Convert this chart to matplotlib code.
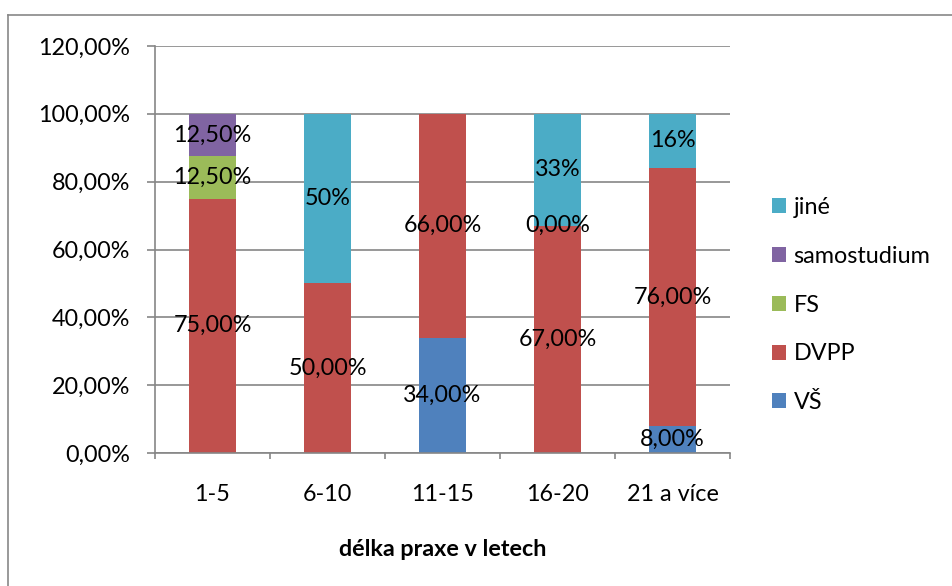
import numpy as np
import matplotlib
matplotlib.use("Agg")
import matplotlib.pyplot as plt
from matplotlib.lines import Line2D
from matplotlib.patches import Patch

categories = ["1-5", "6-10", "11-15", "16-20", "21 a více"]
series_names = ["VŠ", "DVPP", "FS", "samostudium", "jiné"]
vs = [np.nan, np.nan, 34.0, np.nan, 8.0]
dvpp = [75.0, 50.0, 66.0, 67.0, 76.0]
fs = [12.5, np.nan, np.nan, 0.0, np.nan]
samostudium = [12.5, np.nan, np.nan, np.nan, np.nan]
jine = [np.nan, 50.0, np.nan, 33.0, 16.0]
colors = ["#4F81BD", "#C0504D", "#9BBB59", "#8064A2", "#4BACC6"]
yticks = [0, 20, 40, 60, 80, 100, 120]
xlabel = "délka praxe v letech"

plt.rcParams["font.family"] = ["Lato", "DejaVu Sans"]
FS_ = 16.8
GRAY = "#868686"

fig = plt.figure(figsize=(9.53, 5.86), dpi=100)
ax = fig.add_axes([155 / 953, 1 - 453 / 586, (730 - 155) / 953, (453 - 46) / 586])

x = np.arange(len(categories))
bottom = np.zeros(len(categories))
all_series = [vs, dvpp, fs, samostudium, jine]
for i, (vals, col) in enumerate(zip(all_series, colors)):
    v = np.array(vals, dtype=float)
    h = np.nan_to_num(v)
    ax.bar(x, h, 0.41, bottom=bottom, color=col, zorder=2)
    for j in range(len(categories)):
        if not np.isnan(v[j]):
            if series_names[i] == "jiné":
                txt = f"{v[j]:.0f}%"
            else:
                txt = f"{v[j]:.2f}%".replace(".", ",")
            ax.text(x[j], bottom[j] + h[j] / 2, txt, ha="center", va="center",
                    fontsize=FS_, color="black", zorder=3)
    bottom = bottom + h

ax.set_xlim(-0.5, len(categories) - 0.5)
ax.set_ylim(0, 120)
ax.set_yticks(yticks)
ax.set_yticklabels([f"{t:.2f}%".replace(".", ",") for t in yticks], fontsize=FS_)
ax.set_xticks(x)
ax.set_xticklabels(categories, fontsize=FS_)
ax.tick_params(axis="x", length=0, pad=22)
ax.set_xticks(np.arange(-0.5, len(categories)), minor=True)
ax.tick_params(axis="x", which="minor", length=4.3, color=GRAY, width=1.2)
ax.tick_params(axis="y", length=5.8, color=GRAY, width=1.2, pad=12)
ax.yaxis.grid(True, color=GRAY, linewidth=1.2, zorder=0)
ax.set_axisbelow(True)
for s in ["top", "right"]:
    ax.spines[s].set_visible(False)
for s in ["left", "bottom"]:
    ax.spines[s].set_color(GRAY)
    ax.spines[s].set_linewidth(1.2)
ax.set_xlabel(xlabel, fontsize=FS_, fontweight="bold", labelpad=25)

handles = [Patch(facecolor=c, edgecolor="none") for c in colors]
fig.legend(handles[::-1], series_names[::-1], loc="upper left",
           bbox_to_anchor=(772 / 953, 1 - 197 / 586), frameon=False,
           borderpad=0, borderaxespad=0,
           fontsize=FS_, handlelength=0.62, handleheight=0.62,
           handletextpad=0.3, labelspacing=1.19)

# outer chart frame
fig.add_artist(Line2D([8 / 953, 8 / 953], [0, 1 - 15 / 586], transform=fig.transFigure,
                      color="#888888", linewidth=1.2))
fig.add_artist(Line2D([8 / 953, 1], [1 - 15 / 586, 1 - 15 / 586], transform=fig.transFigure,
                      color="#888888", linewidth=1.2))

fig.savefig("out.png", dpi=100)
